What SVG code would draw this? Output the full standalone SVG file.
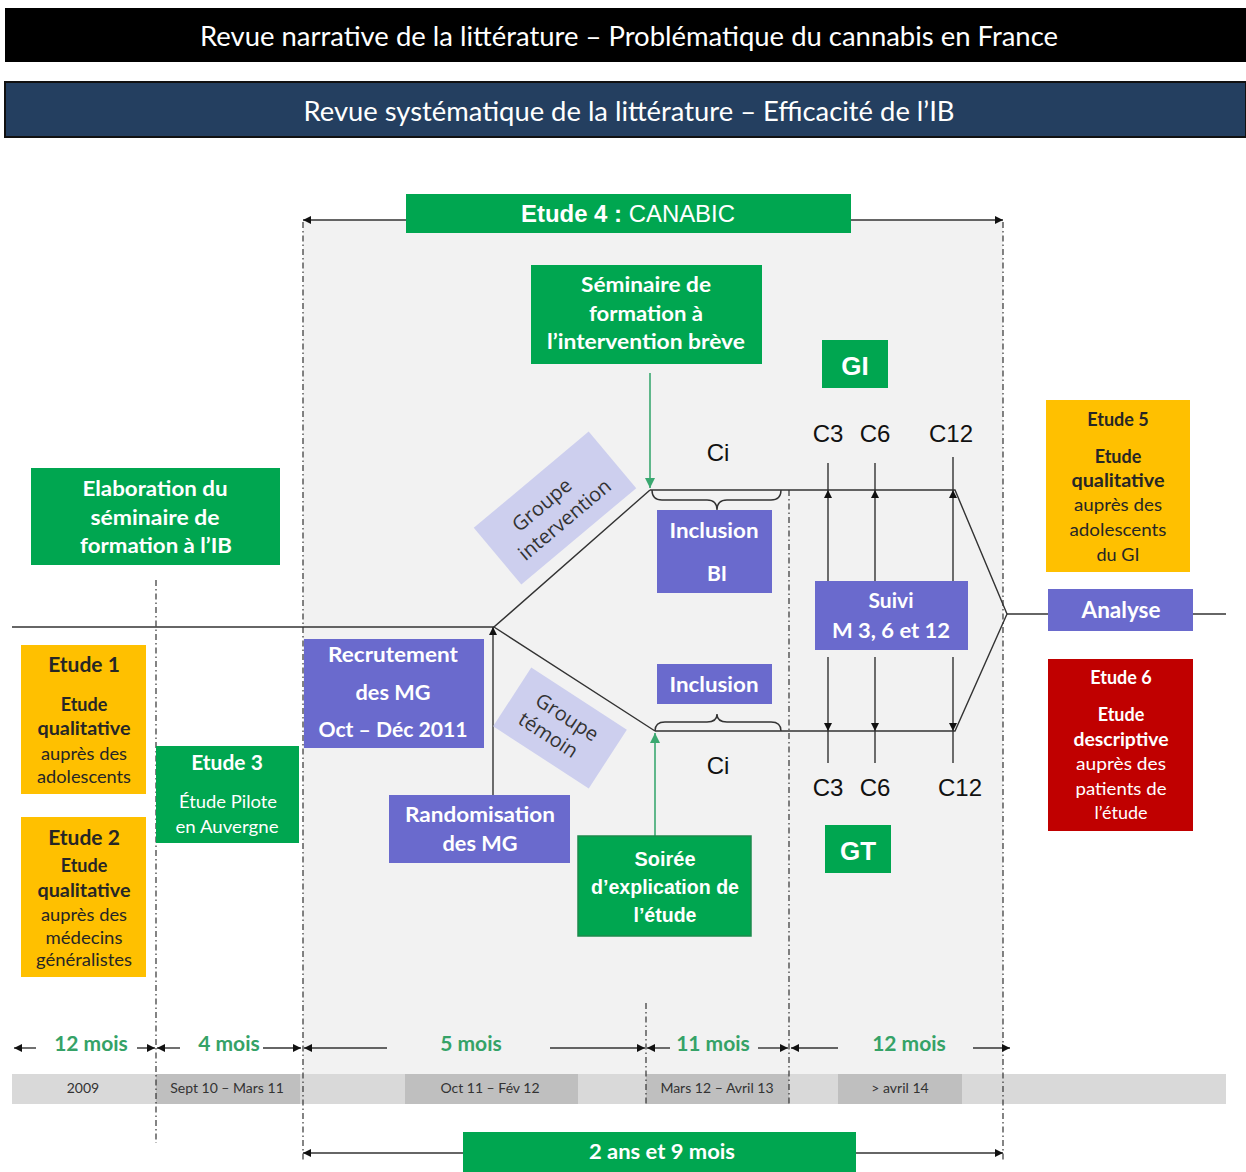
<svg xmlns="http://www.w3.org/2000/svg" width="1246" height="1172" viewBox="0 0 1246 1172">
<defs>
<style>
.g{fill:#00A650}
.p{fill:#6A6ACD}
.y{fill:#FFC000}
.r{fill:#C00000}
.lav{fill:#CDCFEE}
.tw{fill:#fff;font-family:Lato,"Open Sans",sans-serif;font-weight:bold;text-anchor:middle}
.tk{fill:#262626;font-family:Lato,"Open Sans",sans-serif;text-anchor:middle}
.ta{fill:#111;font-family:"Liberation Sans",Arial,sans-serif;text-anchor:middle;font-size:24px}
.ln{stroke:#333;stroke-width:1.4;fill:none}
.dd{stroke:#333;stroke-width:1.2;stroke-dasharray:6 3 1.5 3;fill:none}
.mo{fill:#35A267;font-family:Lato,sans-serif;font-weight:bold;text-anchor:middle;font-size:21px}
.tl{fill:#333;font-family:Lato,sans-serif;text-anchor:middle;font-size:14px}
</style>
<marker id="ah" viewBox="0 0 10 10" refX="10" refY="5" markerWidth="8" markerHeight="8" markerUnits="userSpaceOnUse" orient="auto-start-reverse"><path d="M0,0 L10,5 L0,10 z" fill="#111"/></marker>
<marker id="ag" viewBox="0 0 10 10" refX="10" refY="5" markerWidth="10" markerHeight="10" markerUnits="userSpaceOnUse" orient="auto-start-reverse"><path d="M0,0 L10,5 L0,10 z" fill="#3AA870"/></marker>
</defs>
<rect width="1246" height="1172" fill="#fff"/>

<g id="banner1"><rect x="5" y="8" width="1241" height="54" fill="#000"/>
<text x="629" y="46" fill="#fff" font-family="Lato,sans-serif" font-size="26" text-anchor="middle" textLength="858" lengthAdjust="spacingAndGlyphs">Revue narrative de la littérature – Problématique du cannabis en France</text></g>
<g id="banner2"><rect x="5" y="82" width="1241" height="55" fill="#243F60" stroke="#111" stroke-width="2"/>
<text x="629" y="121" fill="#fff" font-family="Lato,sans-serif" font-size="26" text-anchor="middle" textLength="651" lengthAdjust="spacingAndGlyphs">Revue systématique de la littérature – Efficacité de l’IB</text></g>

<rect id="canabic-zone" x="303" y="220" width="700" height="884" fill="#f2f2f2"/>

<g id="timeline-bar">
<rect x="12" y="1074" width="1214" height="30" fill="#d9d9d9"/>
<rect x="156" y="1074" width="144" height="30" fill="#bfbfbf"/>
<rect x="405" y="1074" width="173" height="30" fill="#bfbfbf"/>
<rect x="646" y="1074" width="143" height="30" fill="#bfbfbf"/>
<rect x="838" y="1074" width="124" height="30" fill="#bfbfbf"/>
<text class="tl" x="83" y="1093">2009</text>
<text class="tl" x="227" y="1093">Sept 10 – Mars 11</text>
<text class="tl" x="490" y="1093">Oct 11 –  Fév 12</text>
<text class="tl" x="717" y="1093">Mars 12 – Avril 13</text>
<text class="tl" x="900" y="1093">&gt; avril 14</text>
</g>

<g id="connectors">
<line class="dd" x1="303" y1="222" x2="303" y2="1160"/>
<line class="dd" x1="1003" y1="222" x2="1003" y2="1160"/>
<line class="dd" x1="156" y1="580" x2="156" y2="1143"/>
<line class="dd" x1="646" y1="1003" x2="646" y2="1104"/>
<line class="dd" x1="789" y1="490" x2="789" y2="1104"/>
<line class="ln" x1="303" y1="220" x2="1003" y2="220" marker-start="url(#ah)" marker-end="url(#ah)"/>
<line class="ln" x1="12" y1="627" x2="494" y2="627"/>
<polyline class="ln" points="650,490 494,627 655,731"/>
<polyline class="ln" points="650,490 955,490 1007,614 955,731 655,731"/>
<line class="ln" x1="1007" y1="614" x2="1226" y2="614"/>
<line class="ln" x1="493" y1="795" x2="493" y2="627" marker-end="url(#ah)"/>
<line x1="650" y1="373" x2="650" y2="488" stroke="#3AA870" stroke-width="1.6" marker-end="url(#ag)"/>
<line x1="655" y1="836" x2="655" y2="733" stroke="#3AA870" stroke-width="1.6" marker-end="url(#ag)"/>
<path class="ln" d="M652,490 Q652,500 662,500 L707,500 Q717,500 717,510 Q717,500 727,500 L771,500 Q781,500 781,490"/>
<path class="ln" d="M655,731 Q655,722 665,722 L707,722 Q717,722 717,714 Q717,722 727,722 L771,722 Q781,722 781,731"/>
<line class="ln" x1="828" y1="581" x2="828" y2="490" marker-end="url(#ah)"/>
<line class="ln" x1="828" y1="490" x2="828" y2="463"/>
<line class="ln" x1="875" y1="581" x2="875" y2="490" marker-end="url(#ah)"/>
<line class="ln" x1="875" y1="490" x2="875" y2="463"/>
<line class="ln" x1="953" y1="581" x2="953" y2="490" marker-end="url(#ah)"/>
<line class="ln" x1="953" y1="490" x2="953" y2="457"/>
<line class="ln" x1="828" y1="657" x2="828" y2="731" marker-end="url(#ah)"/>
<line class="ln" x1="828" y1="731" x2="828" y2="763"/>
<line class="ln" x1="875" y1="657" x2="875" y2="731" marker-end="url(#ah)"/>
<line class="ln" x1="875" y1="731" x2="875" y2="763"/>
<line class="ln" x1="953" y1="657" x2="953" y2="731" marker-end="url(#ah)"/>
<line class="ln" x1="953" y1="731" x2="953" y2="763"/>
<line class="ln" x1="36" y1="1048" x2="14" y2="1048" marker-end="url(#ah)"/>
<line class="ln" x1="137" y1="1048" x2="155" y2="1048" marker-end="url(#ah)"/>
<line class="ln" x1="180" y1="1048" x2="157" y2="1048" marker-end="url(#ah)"/>
<line class="ln" x1="263" y1="1048" x2="301" y2="1048" marker-end="url(#ah)"/>
<line class="ln" x1="387" y1="1048" x2="304" y2="1048" marker-end="url(#ah)"/>
<line class="ln" x1="550" y1="1048" x2="645" y2="1048" marker-end="url(#ah)"/>
<line class="ln" x1="670" y1="1048" x2="647" y2="1048" marker-end="url(#ah)"/>
<line class="ln" x1="758" y1="1048" x2="788" y2="1048" marker-end="url(#ah)"/>
<line class="ln" x1="838" y1="1048" x2="791" y2="1048" marker-end="url(#ah)"/>
<line class="ln" x1="973" y1="1048" x2="1010" y2="1048" marker-end="url(#ah)"/>
<line class="ln" x1="463" y1="1153" x2="303" y2="1153" marker-end="url(#ah)"/>
<line class="ln" x1="856" y1="1153" x2="1003" y2="1153" marker-end="url(#ah)"/>
</g>

<g id="etude4"><rect class="g" x="406" y="194" width="445" height="39"/>
<text x="628" y="222" fill="#fff" font-family="'Liberation Sans',Arial,sans-serif" font-size="24" text-anchor="middle" textLength="214" lengthAdjust="spacingAndGlyphs"><tspan font-weight="bold">Etude 4 :</tspan> CANABIC</text></g>

<g id="seminaire"><rect class="g" x="531" y="265" width="231" height="99"/>
<text class="tw" font-size="21"><tspan x="646" y="292" textLength="130" lengthAdjust="spacingAndGlyphs">Séminaire de</tspan><tspan x="646" y="321" textLength="114" lengthAdjust="spacingAndGlyphs">formation à</tspan><tspan x="646" y="349" textLength="198" lengthAdjust="spacingAndGlyphs">l’intervention brève</tspan></text></g>

<g id="gi"><rect class="g" x="822" y="340" width="66" height="48"/>
<text x="855" y="375" fill="#fff" font-family="'Liberation Sans',Arial,sans-serif" font-weight="bold" font-size="26" text-anchor="middle">GI</text></g>
<g id="gt"><rect class="g" x="825" y="825" width="66" height="48"/>
<text x="858" y="860" fill="#fff" font-family="'Liberation Sans',Arial,sans-serif" font-weight="bold" font-size="26" text-anchor="middle">GT</text></g>

<g id="labels-c">
<text class="ta" x="828" y="442">C3</text>
<text class="ta" x="875" y="442">C6</text>
<text class="ta" x="951" y="442">C12</text>
<text class="ta" x="828" y="796">C3</text>
<text class="ta" x="875" y="796">C6</text>
<text class="ta" x="960" y="796">C12</text>
<text class="ta" x="718" y="461">Ci</text>
<text class="ta" x="718" y="774">Ci</text>
</g>

<g id="groupe-intervention" transform="translate(555,508) rotate(-40)">
<rect class="lav" x="-75" y="-37" width="150" height="74"/>
<text fill="#333" font-family="'Open Sans',sans-serif" font-size="20" text-anchor="middle"><tspan x="-8" y="-4">Groupe</tspan><tspan x="0" y="22">intervention</tspan></text></g>

<g id="groupe-temoin" transform="translate(560,728) rotate(33)">
<rect class="lav" x="-57" y="-35" width="114" height="70"/>
<text fill="#333" font-family="'Open Sans',sans-serif" font-size="20" text-anchor="middle"><tspan x="0" y="-6">Groupe</tspan><tspan x="-6" y="19">témoin</tspan></text></g>

<g id="inclusion-bi"><rect class="p" x="657" y="510" width="115" height="83"/>
<text class="tw" font-size="21"><tspan x="714" y="538" textLength="89" lengthAdjust="spacingAndGlyphs">Inclusion</tspan><tspan x="717" y="581">BI</tspan></text></g>
<g id="inclusion"><rect class="p" x="657" y="664" width="115" height="40"/>
<text class="tw" font-size="21" x="714" y="692" textLength="89" lengthAdjust="spacingAndGlyphs">Inclusion</text></g>

<g id="suivi"><rect class="p" x="815" y="581" width="153" height="69"/>
<text class="tw" font-size="21"><tspan x="891" y="608">Suivi</tspan><tspan x="891" y="638" textLength="118" lengthAdjust="spacingAndGlyphs">M 3, 6 et 12</tspan></text></g>

<g id="recrutement"><rect class="p" x="304" y="639" width="180" height="109"/>
<text class="tw" font-size="21"><tspan x="393" y="662" textLength="130" lengthAdjust="spacingAndGlyphs">Recrutement</tspan><tspan x="393" y="700" textLength="75" lengthAdjust="spacingAndGlyphs">des MG</tspan><tspan x="393" y="737" textLength="149" lengthAdjust="spacingAndGlyphs">Oct – Déc 2011</tspan></text></g>

<g id="randomisation"><rect class="p" x="389" y="795" width="181" height="68"/>
<text class="tw" font-size="21"><tspan x="480" y="822" textLength="150" lengthAdjust="spacingAndGlyphs">Randomisation</tspan><tspan x="480" y="851" textLength="75" lengthAdjust="spacingAndGlyphs">des MG</tspan></text></g>

<g id="soiree"><rect class="g" x="578" y="836" width="173" height="100" stroke="#1d8a4c" stroke-width="1.5"/>
<text fill="#fff" font-family="'Liberation Sans',Arial,sans-serif" font-weight="bold" font-size="21" text-anchor="middle"><tspan x="665" y="866" textLength="61" lengthAdjust="spacingAndGlyphs">Soirée</tspan><tspan x="665" y="894" textLength="148" lengthAdjust="spacingAndGlyphs">d’explication de</tspan><tspan x="665" y="922" textLength="63" lengthAdjust="spacingAndGlyphs">l’étude</tspan></text></g>

<g id="elaboration"><rect class="g" x="31" y="468" width="249" height="97"/>
<text class="tw" font-size="21"><tspan x="155" y="496" textLength="145" lengthAdjust="spacingAndGlyphs">Elaboration du</tspan><tspan x="155" y="525" textLength="129" lengthAdjust="spacingAndGlyphs">séminaire de</tspan><tspan x="156" y="553" textLength="152" lengthAdjust="spacingAndGlyphs">formation à l’IB</tspan></text></g>

<g id="etude1"><rect class="y" x="21" y="645" width="125" height="149"/>
<text class="tk" font-size="21" font-weight="bold" x="84" y="672">Etude 1</text>
<text class="tk" font-size="18"><tspan x="84" y="711" font-weight="bold">Etude</tspan><tspan x="84" y="735" font-weight="bold" textLength="93" lengthAdjust="spacingAndGlyphs">qualitative</tspan><tspan x="84" y="760" textLength="86" lengthAdjust="spacingAndGlyphs">auprès des</tspan><tspan x="84" y="783" textLength="94" lengthAdjust="spacingAndGlyphs">adolescents</tspan></text></g>

<g id="etude2"><rect class="y" x="21" y="817" width="125" height="160"/>
<text class="tk" font-size="21" font-weight="bold" x="84" y="845">Etude 2</text>
<text class="tk" font-size="18"><tspan x="84" y="872" font-weight="bold">Etude</tspan><tspan x="84" y="897" font-weight="bold" textLength="93" lengthAdjust="spacingAndGlyphs">qualitative</tspan><tspan x="84" y="921" textLength="86" lengthAdjust="spacingAndGlyphs">auprès des</tspan><tspan x="84" y="944" textLength="77" lengthAdjust="spacingAndGlyphs">médecins</tspan><tspan x="84" y="966" textLength="96" lengthAdjust="spacingAndGlyphs">généralistes</tspan></text></g>

<g id="etude3"><rect class="g" x="156" y="746" width="143" height="97"/>
<text class="tw" font-size="21" x="227" y="770">Etude 3</text>
<text fill="#fff" font-family="Lato,sans-serif" font-size="18" text-anchor="middle"><tspan x="228" y="808" textLength="98" lengthAdjust="spacingAndGlyphs">Étude Pilote</tspan><tspan x="227" y="833" textLength="103" lengthAdjust="spacingAndGlyphs">en Auvergne</tspan></text></g>

<g id="etude5"><rect class="y" x="1046" y="400" width="144" height="172"/>
<text class="tk" font-size="18" font-weight="bold" x="1118" y="426">Etude 5</text>
<text class="tk" font-size="18"><tspan x="1118" y="463" font-weight="bold">Etude</tspan><tspan x="1118" y="487" font-weight="bold" textLength="93" lengthAdjust="spacingAndGlyphs">qualitative</tspan><tspan x="1118" y="511" textLength="88" lengthAdjust="spacingAndGlyphs">auprès des</tspan><tspan x="1118" y="536" textLength="97" lengthAdjust="spacingAndGlyphs">adolescents</tspan><tspan x="1118" y="561">du GI</tspan></text></g>

<g id="analyse"><rect class="p" x="1048" y="589" width="145" height="42"/>
<text class="tw" font-size="22" x="1121" y="618" textLength="79" lengthAdjust="spacingAndGlyphs">Analyse</text></g>

<g id="etude6"><rect class="r" x="1048" y="659" width="145" height="172"/>
<text class="tw" font-size="18" x="1121" y="684">Etude 6</text>
<text fill="#fff" font-family="Lato,sans-serif" font-size="18" text-anchor="middle"><tspan x="1121" y="721" font-weight="bold">Etude</tspan><tspan x="1121" y="746" font-weight="bold" textLength="95" lengthAdjust="spacingAndGlyphs">descriptive</tspan><tspan x="1121" y="770" textLength="90" lengthAdjust="spacingAndGlyphs">auprès des</tspan><tspan x="1121" y="795" textLength="91" lengthAdjust="spacingAndGlyphs">patients de</tspan><tspan x="1121" y="819">l’étude</tspan></text></g>

<g id="durations">
<text class="mo" x="91" y="1051">12 mois</text>
<text class="mo" x="229" y="1051">4 mois</text>
<text class="mo" x="471" y="1051">5 mois</text>
<text class="mo" x="713" y="1051" font-size="20">11 mois</text>
<text class="mo" x="909" y="1051">12 mois</text>
</g>

<g id="total"><rect class="g" x="463" y="1132" width="393" height="40"/>
<text class="tw" font-size="21" x="662" y="1159" textLength="146" lengthAdjust="spacingAndGlyphs">2 ans et 9 mois</text></g>
</svg>
